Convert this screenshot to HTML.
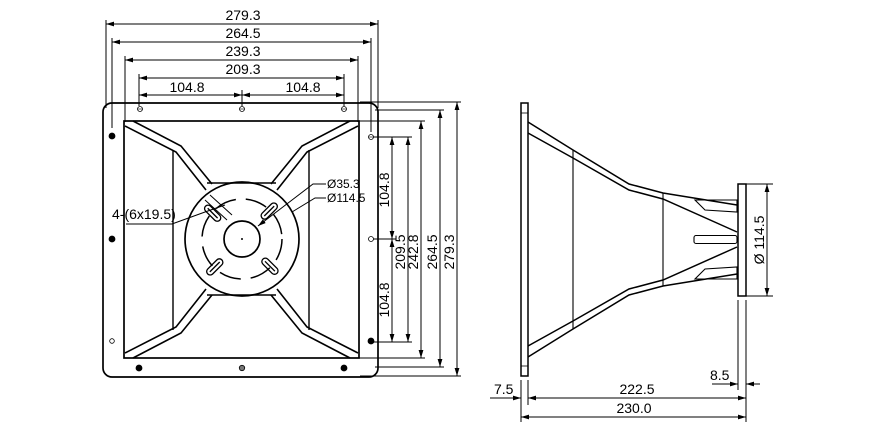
<!DOCTYPE html>
<html><head><style>html,body{margin:0;padding:0;background:#fff}svg{display:block}text{font-family:"Liberation Sans",sans-serif;font-size:14px;fill:#000}</style></head><body>
<svg width="875" height="430" viewBox="0 0 875 430" xmlns="http://www.w3.org/2000/svg">
<defs>
<marker id="a" viewBox="0 0 10 6" refX="10" refY="3" markerWidth="8" markerHeight="5" orient="auto-start-reverse" markerUnits="userSpaceOnUse"><path d="M0,0L10,3L0,6z" fill="#000"/></marker>
</defs>
<g stroke="#000" fill="none" stroke-width="1">
<line x1="106" y1="24" x2="378" y2="24" marker-start="url(#a)" marker-end="url(#a)"/>
<line x1="112" y1="42" x2="371" y2="42" marker-start="url(#a)" marker-end="url(#a)"/>
<line x1="125" y1="60" x2="358" y2="60" marker-start="url(#a)" marker-end="url(#a)"/>
<line x1="139" y1="78" x2="344" y2="78" marker-start="url(#a)" marker-end="url(#a)"/>
<line x1="139" y1="95" x2="242" y2="95" marker-start="url(#a)" marker-end="url(#a)"/>
<line x1="242" y1="95" x2="344" y2="95" marker-start="url(#a)" marker-end="url(#a)"/>
<line x1="106" y1="20" x2="106" y2="108"/><line x1="378" y1="20" x2="378" y2="108"/>
<line x1="112" y1="38" x2="112" y2="128"/><line x1="371" y1="38" x2="371" y2="132"/>
<line x1="125" y1="56" x2="125" y2="122"/><line x1="358" y1="56" x2="358" y2="122"/>
<line x1="139" y1="74" x2="139" y2="106"/><line x1="344" y1="74" x2="344" y2="106"/><line x1="242" y1="90" x2="242" y2="106"/>
<line x1="392" y1="137" x2="392" y2="239" marker-start="url(#a)" marker-end="url(#a)"/>
<line x1="392" y1="239" x2="392" y2="342" marker-start="url(#a)" marker-end="url(#a)"/>
<line x1="408" y1="137" x2="408" y2="342" marker-start="url(#a)" marker-end="url(#a)"/>
<line x1="421" y1="121" x2="421" y2="358" marker-start="url(#a)" marker-end="url(#a)"/>
<line x1="440" y1="110" x2="440" y2="367" marker-start="url(#a)" marker-end="url(#a)"/>
<line x1="457" y1="102" x2="457" y2="376" marker-start="url(#a)" marker-end="url(#a)"/>
<line x1="360" y1="102" x2="461" y2="102"/><line x1="375" y1="110" x2="444" y2="110"/>
<line x1="359" y1="121" x2="425" y2="121"/><line x1="371" y1="137" x2="412" y2="137"/>
<line x1="371" y1="239" x2="396" y2="239"/><line x1="371" y1="342" x2="412" y2="342"/>
<line x1="359" y1="358" x2="425" y2="358"/><line x1="375" y1="367" x2="444" y2="367"/>
<line x1="360" y1="376" x2="461" y2="376"/>
<rect x="103" y="103" width="275" height="274" rx="9" stroke-width="1.7"/>
<rect x="124" y="121" width="235" height="237" stroke-width="1.7"/>
<line x1="173" y1="150" x2="173" y2="330" stroke-width="1.4"/>
<line x1="309" y1="150" x2="309" y2="330" stroke-width="1.4"/>
<line x1="207" y1="183" x2="276" y2="183" stroke-width="1.4"/>
<line x1="207" y1="295" x2="276" y2="295" stroke-width="1.4"/>
<g stroke-width="1.6">
<polyline points="125,126 176,152 206,190"/><polyline points="133,121 181,146 212,184"/>
<polyline points="358,126 307,152 277,190"/><polyline points="350,121 302,146 271,184"/>
<polyline points="125,353 176,327 206,289"/><polyline points="133,358 181,333 212,295"/>
<polyline points="358,353 307,327 277,289"/><polyline points="350,358 302,333 271,295"/>
</g>
<circle cx="242" cy="239" r="57" stroke-width="1.7"/>
<circle cx="242" cy="239" r="18" stroke-width="1.7"/>
<circle cx="242" cy="239" r="40" stroke-width="1.5" stroke-dasharray="22,10"/>
<g stroke-width="1.3">
<g transform="rotate(-45 242 239)"><rect x="236" y="190" width="7" height="20" rx="3.5"/><line x1="239.5" y1="193" x2="239.5" y2="207"/></g>
<g transform="rotate(45 242 239)"><rect x="238" y="190" width="7" height="20" rx="3.5"/><line x1="241.5" y1="193" x2="241.5" y2="207"/></g>
<g transform="rotate(135 242 239)"><rect x="238" y="190" width="7" height="20" rx="3.5"/><line x1="241.5" y1="193" x2="241.5" y2="207"/></g>
<g transform="rotate(-135 242 239)"><rect x="238" y="190" width="7" height="20" rx="3.5"/><line x1="241.5" y1="193" x2="241.5" y2="207"/></g>
</g>
<line x1="205" y1="200" x2="227" y2="220"/><line x1="210" y1="195" x2="232" y2="215"/>
<polyline points="126,224 172,224 205,212 225,205"/>
<polyline points="326,184 313,184 258,226" marker-end="url(#a)"/>
<polyline points="326,198 315,198 292,212"/>
</g>
<g fill="#000" stroke="#000" stroke-width="0.8">
<circle cx="112" cy="136" r="3"/><circle cx="112" cy="239" r="3"/><circle cx="112" cy="341" r="2.3" fill="#fff"/>
<circle cx="371" cy="239" r="2.5" fill="#fff"/><circle cx="371" cy="341" r="3"/>
<circle cx="139" cy="368" r="3"/><circle cx="242" cy="368" r="2.7" fill="#777"/><circle cx="344" cy="368" r="3"/>
<circle cx="140" cy="109" r="2.5" fill="#fff"/><circle cx="242" cy="109" r="2.5" fill="#fff"/><circle cx="344" cy="109" r="2.5" fill="#fff"/><circle cx="371" cy="137" r="2.5" fill="#fff"/>
<circle cx="242" cy="239" r="0.6"/>
</g>
<g stroke="#000" stroke-width="0.6"><line x1="138" y1="109" x2="142" y2="109"/><line x1="240" y1="109" x2="244" y2="109"/><line x1="342" y1="109" x2="346" y2="109"/><line x1="369" y1="137" x2="373" y2="137"/></g>
<text x="243" y="20" text-anchor="middle">279.3</text>
<text x="243" y="38" text-anchor="middle">264.5</text>
<text x="243" y="56" text-anchor="middle">239.3</text>
<text x="243" y="74" text-anchor="middle">209.3</text>
<text x="187" y="92" text-anchor="middle">104.8</text>
<text x="303" y="92" text-anchor="middle">104.8</text>
<text x="112" y="219">4-(6x19.5)</text>
<text x="327" y="188" style="font-size:12px">Ø35.3</text>
<text x="327" y="202" style="font-size:12px">Ø114.5</text>
<text transform="translate(389,190) rotate(-90)" text-anchor="middle">104.8</text>
<text transform="translate(389,300) rotate(-90)" text-anchor="middle">104.8</text>
<text transform="translate(405,252) rotate(-90)" text-anchor="middle">209.5</text>
<text transform="translate(418,252) rotate(-90)" text-anchor="middle">242.8</text>
<text transform="translate(437,252) rotate(-90)" text-anchor="middle">264.5</text>
<text transform="translate(454,252) rotate(-90)" text-anchor="middle">279.3</text>
<text transform="translate(764,240) rotate(-90)" text-anchor="middle">Ø 114.5</text>
<g stroke="#000" fill="none" stroke-width="1.5">
<rect x="521" y="103" width="7" height="273"/>
<line x1="521" y1="113" x2="528" y2="113" stroke-width="0.8"/><line x1="521" y1="366" x2="528" y2="366" stroke-width="0.8"/>
<rect x="738" y="184" width="8" height="112"/>
<polyline points="528,122 573,150 629,184 663,193 737,205"/>
<polyline points="528,133 573,158 629,190 663,199 737,232"/>
<polyline points="528,357 573,329 629,295 663,286 737,274"/>
<polyline points="528,346 573,321 629,289 663,280 737,247"/>
<line x1="573" y1="150" x2="573" y2="329" stroke-width="1.1"/>
<line x1="663" y1="193" x2="663" y2="286" stroke-width="1.1"/>
<polygon points="695,200 737,200 737,212 705,210" stroke-width="1.1"/>
<polygon points="695,279 737,279 737,267 705,269" stroke-width="1.1"/>
<rect x="694" y="235.5" width="43" height="8" rx="2" stroke-width="1.1"/>
</g>
<g stroke="#000" fill="none" stroke-width="1">
<line x1="746" y1="184" x2="773" y2="184"/><line x1="746" y1="296" x2="773" y2="296"/>
<line x1="767" y1="184" x2="767" y2="296" marker-start="url(#a)" marker-end="url(#a)"/>
<line x1="521" y1="380" x2="521" y2="422"/><line x1="528" y1="380" x2="528" y2="405"/>
<line x1="738" y1="300" x2="738" y2="390"/><line x1="746" y1="300" x2="746" y2="422"/>
<line x1="528" y1="398" x2="746" y2="398" marker-start="url(#a)" marker-end="url(#a)"/>
<line x1="521" y1="417" x2="746" y2="417" marker-start="url(#a)" marker-end="url(#a)"/>
<line x1="490" y1="398" x2="521" y2="398" marker-end="url(#a)"/>
<line x1="712" y1="384" x2="738" y2="384" marker-end="url(#a)"/>
<line x1="760" y1="384" x2="746" y2="384" marker-end="url(#a)"/>
</g>
<text x="494" y="394">7.5</text>
<text x="637" y="394" text-anchor="middle">222.5</text>
<text x="634" y="413" text-anchor="middle">230.0</text>
<text x="710" y="380">8.5</text>
</svg>
</body></html>
